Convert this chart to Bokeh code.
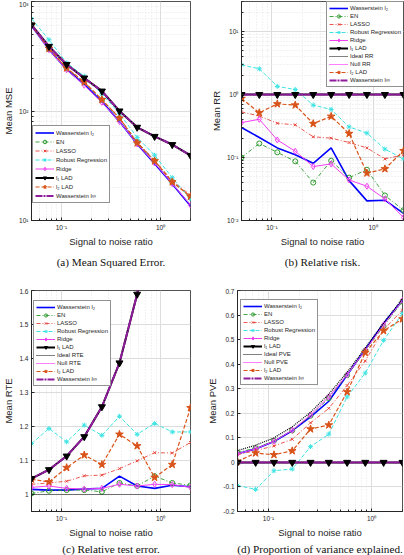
from bokeh.plotting import figure
from bokeh.layouts import column, row
from bokeh.models import (FixedTicker, CustomJSTickFormatter, Legend, LegendItem,
                          Title, Range1d)
from bokeh.embed import file_html
from bokeh.resources import INLINE

# ---------------- data ----------------
snr = [0.05, 0.075, 0.113, 0.17, 0.256, 0.385, 0.58, 0.87, 1.31, 2.0]

# (a) Mean MSE
mse_wass2 = [600, 365, 240, 175, 122, 80, 50, 33, 21.5, 13.6]
mse_en = [605, 368, 245, 182, 126, 86, 52, 35, 22.5, 16.5]
mse_lasso = [605, 370, 246, 184, 127, 87, 52, 35.5, 23, 17]
mse_robust = [697, 447, 275, 208, 143, 95, 57.4, 39.5, 24.6, 15.7]
mse_ridge = [600, 362, 238, 172, 120, 80, 50, 33.5, 21.7, 13.8]
mse_l1lad = [611, 389, 266, 200, 152, 100, 71, 58.6, 49.3, 39.3]
mse_l2lad = [610, 372, 247, 184, 127, 86, 51, 35, 22.5, 16.6]
mse_winf = [611, 389, 266, 200, 152, 100, 71, 58.6, 49.3, 39.3]

# (b) Mean RR
rr_wass2 = [0.30, 0.208, 0.142, 0.111, 0.081, 0.142, 0.043, 0.0205, 0.021, 0.013]
rr_en = [0.10, 0.167, 0.121, 0.087, 0.040, 0.089, 0.048, 0.064, 0.025, 0.0146]
rr_lasso = [0.53, 0.456, 0.35, 0.33, 0.213, 0.203, 0.173, 0.142, 0.095, 0.11]
rr_robust = [2.96, 2.56, 1.35, 1.2, 0.68, 0.58, 0.306, 0.244, 0.136, 0.095]
rr_ridge = [0.358, 0.405, 0.19, 0.126, 0.072, 0.079, 0.044, 0.035, 0.022, 0.0112]
rr_l1lad = [1, 1, 1, 1, 1, 1, 1, 1, 1, 1]
rr_ideal = [0, 0, 0, 0, 0, 0, 0, 0, 0, 0]
rr_null = [1, 1, 1, 1, 1, 1, 1, 1, 1, 1]
rr_l2lad = [0.865, 0.514, 0.71, 0.68, 0.345, 0.45, 0.24, 0.0565, 0.066, 0.128]
rr_winf = [1, 1, 1, 1, 1, 1, 1, 1, 1, 1]

# (c) Mean RTE
rte_wass2 = [1.015, 1.013, 1.013, 1.016, 1.018, 1.054, 1.025, 1.018, 1.027, 1.023]
rte_en = [1.003, 1.011, 1.013, 1.013, 1.008, 1.034, 1.025, 1.054, 1.034, 1.027]
rte_lasso = [1.03, 1.034, 1.039, 1.055, 1.057, 1.076, 1.099, 1.123, 1.122, 1.153]
rte_robust = [1.15, 1.194, 1.155, 1.204, 1.174, 1.23, 1.177, 1.209, 1.184, 1.184]
rte_ridge = [1.021, 1.025, 1.018, 1.016, 1.018, 1.03, 1.025, 1.03, 1.029, 1.021]
rte_l1lad = [1.047, 1.073, 1.113, 1.17, 1.258, 1.387, 1.589, 1.87, 2.31, 3.0]
rte_ideal = [1, 1, 1, 1, 1, 1, 1, 1, 1, 1]
rte_null = [1.047, 1.073, 1.113, 1.17, 1.258, 1.387, 1.589, 1.87, 2.31, 3.0]
rte_l2lad = [1.045, 1.037, 1.079, 1.116, 1.088, 1.177, 1.143, 1.05, 1.088, 1.255]
rte_winf = [1.047, 1.073, 1.113, 1.17, 1.258, 1.387, 1.589, 1.87, 2.31, 3.0]

# (d) Mean PVE
pve_wass2 = [0.035, 0.055, 0.085, 0.129, 0.185, 0.249, 0.356, 0.46, 0.567, 0.66]
pve_en = [0.04, 0.058, 0.088, 0.13, 0.19, 0.262, 0.355, 0.455, 0.555, 0.655]
pve_lasso = [0.031, 0.048, 0.067, 0.094, 0.161, 0.22, 0.313, 0.413, 0.54, 0.62]
pve_robust = [-0.094, -0.11, -0.034, -0.027, 0.064, 0.115, 0.267, 0.364, 0.497, 0.607]
pve_ridge = [0.035, 0.055, 0.086, 0.131, 0.193, 0.267, 0.357, 0.457, 0.56, 0.66]
pve_l1lad = [0, 0, 0, 0, 0, 0, 0, 0, 0, 0]
pve_ideal = [0.048, 0.07, 0.10, 0.145, 0.204, 0.278, 0.367, 0.466, 0.567, 0.667]
pve_null = [0, 0, 0, 0, 0, 0, 0, 0, 0, 0]
pve_l2lad = [0.004, 0.038, 0.031, 0.047, 0.136, 0.152, 0.287, 0.447, 0.536, 0.584]
pve_winf = [0, 0, 0, 0, 0, 0, 0, 0, 0, 0]

x_major = [0.1, 1]
x_minor = [0.05, 0.06, 0.07, 0.08, 0.09, 0.2, 0.3, 0.4, 0.5, 0.6, 0.7, 0.8, 0.9, 2]

# ---------------- styles ----------------
TXT = "#262626"
STY = {
    "wass2": dict(color="#0000ff", dash="solid", width=1.6, marker=None),
    "en": dict(color="#2e9a2e", dash="4 2 1 2", width=0.9, marker="circle", size=5, fill=False),
    "lasso": dict(color="#e8453c", dash="4 2 1 2", width=0.9, marker="x", size=4, fill=False),
    "robust": dict(color="#3fe3e3", dash="4 2", width=1.0, marker="asterisk", size=5, fill=False),
    "ridge": dict(color="#f040f0", dash="solid", width=1.0, marker="diamond", size=6, fill=False),
    "l1lad": dict(color="#000000", dash="solid", width=2.0, marker=None),
    "ideal": dict(color="#000000", dash="1 1", width=1.2, marker=None),
    "null": dict(color="#ff00ff", dash="1 1", width=1.2, marker=None),
    "l2lad": dict(color="#d95319", dash="4 2", width=1.2, marker="star", size=8, fill=True),
    "winf": dict(color="#8e1c9c", dash="7 1 2 1", width=2.0, marker=None),
}
LABELS = {
    "wass2": "Wasserstein l\u2082", "en": "EN", "lasso": "LASSO",
    "robust": "Robust Regression", "ridge": "Ridge", "l1lad": "l\u2081 LAD",
    "l2lad": "l\u2082 LAD", "winf": "Wasserstein l\u221e",
}

LOGFMT_CODE = """
const e = Math.round(Math.log10(tick));
const m = {'-':'\u207b','0':'\u2070','1':'\u00b9','2':'\u00b2','3':'\u00b3','4':'\u2074','5':'\u2075','6':'\u2076','7':'\u2077','8':'\u2078','9':'\u2079'};
return '10' + String(e).split('').map(c => m[c]).join('');
"""
LINFMT_CODE = """
if (Math.abs(tick) < 1e-9) return '0';
return String(Math.round(tick * 100) / 100);
"""


def make_fig(w, h, bl, br, bt, bb, ylog, yr, yticks, yminor, ylabel):
    p = figure(width=w, height=h, x_axis_type="log",
               y_axis_type="log" if ylog else "linear",
               x_range=Range1d(0.05, 2.0), y_range=Range1d(*yr),
               min_border_left=bl, min_border_right=br, min_border_top=bt,
               min_border_bottom=bb, output_backend="svg", toolbar_location=None,
               background_fill_color="white", border_fill_color="white")
    p.outline_line_color = TXT
    p.outline_line_width = 0.8
    p.xaxis.ticker = FixedTicker(ticks=x_major, minor_ticks=x_minor)
    p.xaxis.formatter = CustomJSTickFormatter(code=LOGFMT_CODE)
    p.yaxis.ticker = FixedTicker(ticks=yticks, minor_ticks=yminor)
    p.yaxis.formatter = CustomJSTickFormatter(code=LOGFMT_CODE if ylog else LINFMT_CODE)
    for ax in (p.xaxis[0], p.yaxis[0]):
        ax.axis_line_color = TXT
        ax.major_tick_in = 3
        ax.major_tick_out = 0
        ax.minor_tick_in = 2
        ax.minor_tick_out = 0
        ax.major_tick_line_color = TXT
        ax.minor_tick_line_color = TXT
        ax.major_label_text_font = "Liberation Sans"
        ax.major_label_text_font_size = "6.5px"
        ax.major_label_text_color = TXT
        ax.major_label_standoff = 3
        ax.axis_label_text_font = "Liberation Sans"
        ax.axis_label_text_font_size = "9.5px"
        ax.axis_label_text_font_style = "normal"
        ax.axis_label_text_color = TXT
        ax.axis_label_standoff = 2
    p.xaxis.axis_label = "Signal to noise ratio"
    p.yaxis.axis_label = ylabel
    if not ylog:
        p.yaxis.minor_tick_in = 0
    p.xgrid.grid_line_color = "#dcdcdc"
    p.ygrid.grid_line_color = "#dcdcdc"
    p.xgrid.minor_grid_line_color = "#e4e4e4"
    p.xgrid.minor_grid_line_dash = "1 2"
    if ylog:
        p.ygrid.minor_grid_line_color = "#e4e4e4"
        p.ygrid.minor_grid_line_dash = "1 2"
    return p


def add_series(p, key, y, label):
    s = STY[key]
    rs = []
    rl = p.line(snr, y, line_color=s["color"], line_width=s["width"], line_dash=s["dash"])
    rs.append(rl)
    if s.get("marker"):
        rm = p.scatter(snr, y, marker=s["marker"], size=s["size"],
                       line_color=s["color"], line_width=1,
                       fill_color=s["color"] if s["fill"] else None)
        rs.append(rm)
    return LegendItem(label=label, renderers=rs)


def build_panel(p, data, order, extra_labels, loc, lh, lw_font):
    items = {}
    l1_line = None
    for key in order:
        y = data[key]
        lab = extra_labels.get(key, LABELS.get(key))
        if key == "l1lad":
            l1_line = p.line(snr, y, line_color="#000000", line_width=2.0)
            items[key] = None
        else:
            items[key] = add_series(p, key, y, lab)
    tri = p.scatter(snr, data["l1lad"], marker="inverted_triangle", size=7,
                    line_color="#000000", fill_color="#000000")
    items["l1lad"] = LegendItem(label=LABELS["l1lad"], renderers=[l1_line, tri])
    leg = Legend(items=[items[k] for k in order], location=loc,
                 label_text_font="Liberation Sans", label_text_font_size=lw_font,
                 label_text_color=TXT, glyph_width=19, glyph_height=lh,
                 label_height=lh, label_standoff=2, spacing=0, padding=2, margin=0,
                 border_line_color=TXT, border_line_width=0.8,
                 background_fill_color="white", background_fill_alpha=1.0)
    p.add_layout(leg)


def caption(p, text, offset, standoff):
    p.add_layout(Title(text=text, align="center", offset=offset, standoff=standoff,
                       text_font="Liberation Serif", text_font_size="11.2px",
                       text_font_style="normal", text_color="#111111"), "below")


# ---------------- (a) ----------------
pa = make_fig(202, 288, 26, 12, 1, 68, True, (10, 1000), [10, 100, 1000],
              [20, 30, 40, 50, 60, 70, 80, 90, 200, 300, 400, 500, 600, 700, 800, 900],
              "Mean MSE")
build_panel(pa, dict(wass2=mse_wass2, en=mse_en, lasso=mse_lasso, robust=mse_robust,
                     ridge=mse_ridge, l1lad=mse_l1lad, l2lad=mse_l2lad, winf=mse_winf),
            ["wass2", "en", "lasso", "robust", "ridge", "l1lad", "l2lad", "winf"],
            {}, (1, 17), 9, "6px")
caption(pa, "(a) Mean Squared Error.", -12, 8)

# ---------------- (b) ----------------
pb = make_fig(202, 288, 39, 1, 1, 68, True, (0.01, 30), [0.01, 0.1, 1, 10],
              [0.02, 0.03, 0.04, 0.05, 0.06, 0.07, 0.08, 0.09, 0.2, 0.3, 0.4, 0.5,
               0.6, 0.7, 0.8, 0.9, 2, 3, 4, 5, 6, 7, 8, 9, 20, 30], "Mean RR")
build_panel(pb, dict(wass2=rr_wass2, en=rr_en, lasso=rr_lasso, robust=rr_robust,
                     ridge=rr_ridge, l1lad=rr_l1lad, ideal=rr_ideal, null=rr_null,
                     l2lad=rr_l2lad, winf=rr_winf),
            ["wass2", "en", "lasso", "robust", "ridge", "l1lad", "ideal", "null", "l2lad", "winf"],
            {"ideal": "Ideal RR", "null": "Null RR"}, (85, 133), 8, "6px")
caption(pb, "(b) Relative risk.", -5, 8)

# ---------------- (c) ----------------
pc = make_fig(202, 267, 26, 12, 2, 44, False, (0.95, 1.6),
              [1, 1.1, 1.2, 1.3, 1.4, 1.5, 1.6], [], "Mean RTE")
build_panel(pc, dict(wass2=rte_wass2, en=rte_en, lasso=rte_lasso, robust=rte_robust,
                     ridge=rte_ridge, l1lad=rte_l1lad, ideal=rte_ideal, null=rte_null,
                     l2lad=rte_l2lad, winf=rte_winf),
            ["wass2", "en", "lasso", "robust", "ridge", "l1lad", "ideal", "null", "l2lad", "winf"],
            {"ideal": "Ideal RTE", "null": "Null RTE"}, (2, 125), 8, "6px")
caption(pc, "(c) Relative test error.", -12, 1)

# ---------------- (d) ----------------
pd_ = make_fig(202, 267, 35, 2, 2, 44, False, (-0.2, 0.7),
               [-0.2, -0.1, 0, 0.1, 0.2, 0.3, 0.4, 0.5, 0.6, 0.7], [], "Mean PVE")
build_panel(pd_, dict(wass2=pve_wass2, en=pve_en, lasso=pve_lasso, robust=pve_robust,
                      ridge=pve_ridge, l1lad=pve_l1lad, ideal=pve_ideal, null=pve_null,
                      l2lad=pve_l2lad, winf=pve_winf),
            ["wass2", "en", "lasso", "robust", "ridge", "l1lad", "ideal", "null", "l2lad", "winf"],
            {"ideal": "Ideal PVE", "null": "Null PVE"}, (3, 126), 8, "6px")
caption(pd_, "(d) Proportion of variance explained.", -12, 1)

layout = column(row(pa, pb), row(pc, pd_))
open("out.html", "w").write(file_html(layout, INLINE))
